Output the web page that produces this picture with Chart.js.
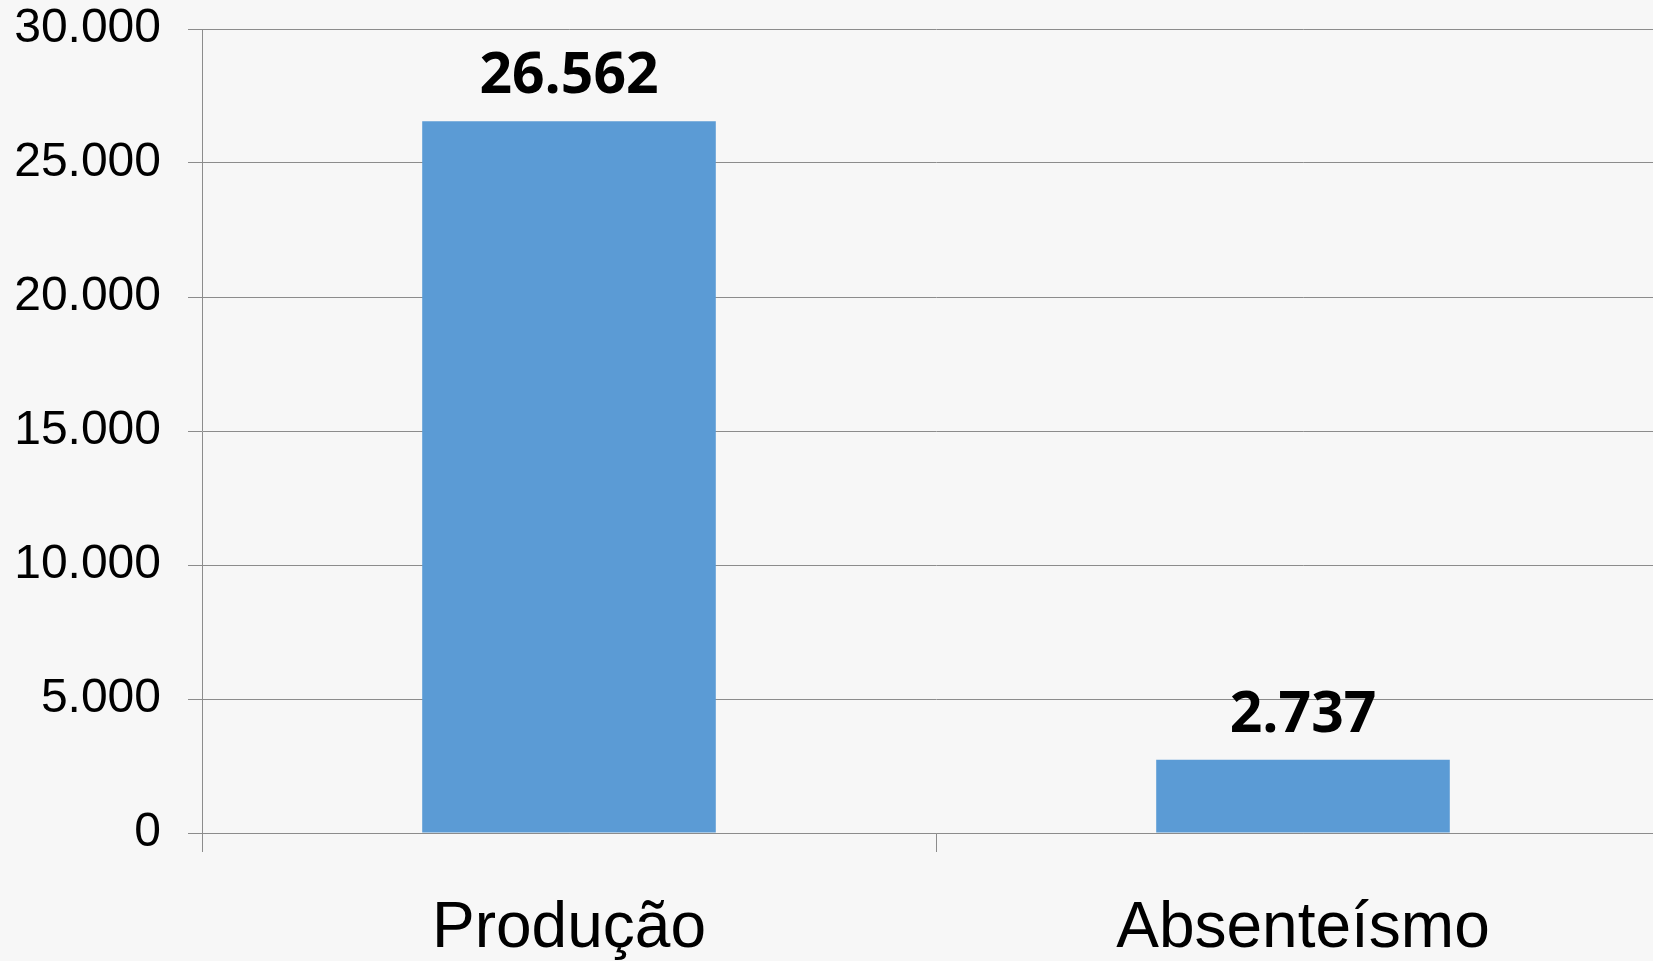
<!DOCTYPE html>
<html>
<head>
<meta charset="utf-8">
<script src="https://cdn.jsdelivr.net/npm/chart.js@4.4.0/dist/chart.umd.min.js"></script>
<style>
    html, body { margin: 0; padding: 0; overflow: hidden; background: #f7f7f7; }
    #chartContainer { width: 1670px; height: 1000px; }
</style>
</head>
<body>
<div id="chartContainer"><canvas id="barChart" width="1670" height="1000"></canvas></div>
<script>
const categories = ['Produção', 'Absenteísmo'];
const values = [26562, 2737];
const yMax = 30000;
const yStep = 5000;

function fmt(v) {
    return String(v).replace(/\B(?=(\d{3})+(?!\d))/g, '.');
}

document.addEventListener('DOMContentLoaded', function() {
    const ctx = document.getElementById('barChart').getContext('2d');
    const lineColor = '#8c8c8c';

    // value labels above the bars
    const barLabels = {
        id: 'barLabels',
        afterDatasetsDraw(chart) {
            const c = chart.ctx;
            const meta = chart.getDatasetMeta(0);
            c.save();
            c.font = 'bold 57px "Open Sans"';
            c.fillStyle = '#000';
            c.textAlign = 'center';
            c.textBaseline = 'alphabetic';
            meta.data.forEach((bar, i) => {
                c.fillText(fmt(values[i]), bar.x, bar.y - 28);
            });
            c.restore();
        }
    };

    new Chart(ctx, {
        type: 'bar',
        data: {
            labels: categories,
            datasets: [{
                data: values,
                backgroundColor: '#5b9bd5',
                borderWidth: 0,
                categoryPercentage: 1,
                barPercentage: 0.4
            }]
        },
        options: {
            responsive: false,
            animation: false,
            layout: { padding: { top: 29, left: 0, right: 0, bottom: 0 } },
            plugins: { legend: { display: false }, tooltip: { enabled: false } },
            scales: {
                x: {
                    afterFit: function(scale) { scale.height = 167; },
                    grid: { drawOnChartArea: false, drawTicks: true, tickLength: 19, color: lineColor, offset: true },
                    border: { color: lineColor },
                    ticks: { color: '#000', padding: 39, font: { family: 'Liberation Sans, Arial', size: 64 } }
                },
                y: {
                    min: 0,
                    max: yMax,
                    afterFit: function(scale) {
                        scale.width = 202;
                        scale.paddingTop = 0;
                        scale.paddingBottom = 0;
                    },
                    grid: { color: lineColor, tickLength: 14 },
                    border: { color: lineColor },
                    ticks: {
                        stepSize: yStep,
                        color: '#000',
                        padding: 27,
                        font: { family: 'Liberation Sans, Arial', size: 48 },
                        callback: function(v) { return fmt(v); }
                    }
                }
            }
        },
        plugins: [barLabels]
    });
});
</script>
</body>
</html>
